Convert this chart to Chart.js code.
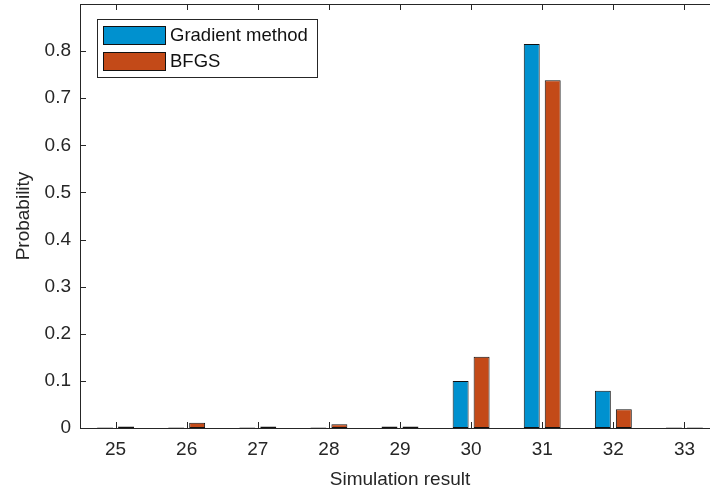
<!DOCTYPE html>
<html>
<head>
<meta charset="utf-8">
<script src="https://cdn.jsdelivr.net/npm/chart.js@4/dist/chart.umd.min.js"></script>
<style>
html,body{margin:0;padding:0;background:#fff;overflow:hidden;width:710px;height:495px;}
#wrap{position:absolute;left:0;top:0;width:730px;height:495px;}
</style>
</head>
<body>
<div id="wrap"><canvas id="c" width="730" height="495"></canvas></div>
<script>
const categories = ['25','26','27','28','29','30','31','32','33'];
const gradientMethod = [0.001,0.001,0.001,0.001,0.003,0.100,0.815,0.079,0.001];
const bfgs = [0.003,0.011,0.003,0.008,0.003,0.151,0.738,0.040,0.001];
const yTickValues = [0,0.1,0.2,0.3,0.4,0.5,0.6,0.7,0.8];
const seriesNames = ['Gradient method','BFGS'];
const seriesColors = ['#0091CF','#C34A18'];

const AX = '#262626';
const FONT = '"Liberation Sans", Arial, sans-serif';

const framePlugin = {
  id: 'frame',
  afterDraw(chart) {
    const ctx = chart.ctx, a = chart.chartArea;
    const xs = chart.scales.x, ys = chart.scales.y;
    ctx.save();
    ctx.strokeStyle = AX;
    ctx.lineWidth = 1;
    ctx.beginPath();
    ctx.moveTo(a.left + 0.5, a.top + 0.5);
    ctx.lineTo(a.right, a.top + 0.5);
    ctx.moveTo(a.left + 0.5, a.top);
    ctx.lineTo(a.left + 0.5, a.bottom + 0.5);
    ctx.lineTo(a.right, a.bottom + 0.5);
    ctx.stroke();
    const L = 6;
    ctx.beginPath();
    categories.forEach((c, i) => {
      const x = Math.round(xs.getPixelForValue(i)) + 0.5;
      ctx.moveTo(x, a.bottom); ctx.lineTo(x, a.bottom - L);
      ctx.moveTo(x, a.top); ctx.lineTo(x, a.top + L);
    });
    yTickValues.forEach(v => {
      const y = Math.round(ys.getPixelForValue(v)) + 0.5;
      ctx.moveTo(a.left, y); ctx.lineTo(a.left + L, y);
    });
    ctx.stroke();
    // legend
    const lx = 97.5, ly = 19.5, lw = 220, lh = 58;
    ctx.fillStyle = '#fff';
    ctx.fillRect(lx, ly, lw, lh);
    ctx.strokeStyle = AX;
    ctx.strokeRect(lx, ly, lw, lh);
    ctx.font = '18.5px ' + FONT;
    ctx.textBaseline = 'middle';
    seriesNames.forEach((n, i) => {
      const sy = 26.5 + i * 26;
      ctx.fillStyle = seriesColors[i];
      ctx.fillRect(103.5, sy, 62, 18);
      ctx.strokeStyle = '#111';
      ctx.strokeRect(103.5, sy, 62, 18);
      ctx.fillStyle = '#111';
      ctx.fillText(n, 170, sy + 9.5);
    });
    ctx.restore();
  }
};

new Chart(document.getElementById('c'), {
  type: 'bar',
  data: {
    labels: categories,
    datasets: [
      { label: seriesNames[0], data: gradientMethod, backgroundColor: seriesColors[0], borderColor: '#111', borderWidth: 1, borderSkipped: false },
      { label: seriesNames[1], data: bfgs, backgroundColor: seriesColors[1], borderColor: '#111', borderWidth: 1, borderSkipped: false }
    ]
  },
  options: {
    responsive: false,
    animation: false,
    devicePixelRatio: 1,
    layout: { padding: { top: 4, right: 10, left: 0, bottom: 0 } },
    datasets: { bar: { categoryPercentage: 0.59, barPercentage: 0.76 } },
    plugins: { legend: { display: false }, tooltip: { enabled: false } },
    scales: {
      x: {
        offset: true,
        grid: { display: false, drawTicks: false },
        border: { display: false },
        ticks: { color: AX, font: { family: FONT, size: 19 }, padding: 10, maxRotation: 0 },
        title: { display: true, text: 'Simulation result', color: AX, font: { family: FONT, size: 19 }, padding: { top: 0, bottom: 4 } },
        afterFit(s) { s.height = 67; s.paddingLeft = 0; s.paddingRight = 0; }
      },
      y: {
        min: 0, max: 0.9,
        afterBuildTicks(s) { s.ticks = yTickValues.map(v => ({ value: v })); },
        grid: { display: false, drawTicks: false },
        border: { display: false },
        ticks: { color: AX, font: { family: FONT, size: 19 }, padding: 9, callback: v => String(Math.round(v * 10) / 10) },
        title: { display: true, text: 'Probability', color: AX, font: { family: FONT, size: 19 }, padding: { top: 12, bottom: 0 } },
        afterFit(s) { s.width = 80; s.paddingTop = 0; s.paddingBottom = 0; }
      }
    }
  },
  plugins: [framePlugin]
});
</script>
</body>
</html>
